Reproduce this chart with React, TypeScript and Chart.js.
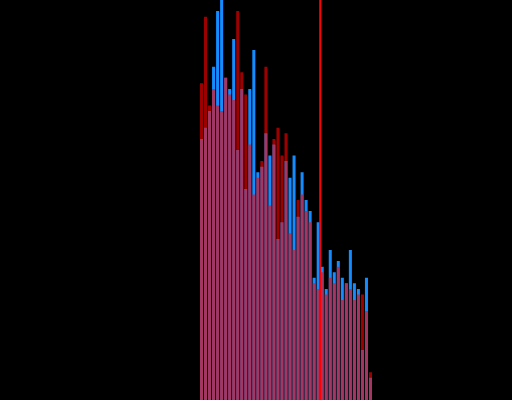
import React, { useEffect, useRef } from "react";
import { Chart, registerables } from "chart.js";

Chart.register(...registerables);

const bins: string[] = Array.from({ length: 43 }, (_, i) => String(i + 1));

const blueCounts: number[] = [
  47, 49, 52, 60, 70, 72, 58, 56, 65, 45, 56, 38, 56, 63, 41, 42, 48, 44, 46, 29,
  32, 43, 40, 44, 33, 41, 36, 34, 22, 32, 24, 20, 27, 23, 25, 22, 21, 27, 21, 20,
  9, 22, 4,
];

const redCounts: number[] = [
  57, 69, 53, 56, 53, 52, 58, 55, 54, 70, 59, 55, 46, 37, 40, 43, 60, 35, 47, 49,
  44, 48, 30, 27, 36, 37, 34, 32, 21, 20, 23, 19, 22, 21, 24, 18, 21, 20, 18, 19,
  19, 16, 5,
];

const thresholdBin = 29.5;
const yMax = 72;

const thresholdPlugin = {
  id: "thresholdLine",
  afterDatasetsDraw(chart: any) {
    const { ctx, chartArea, scales } = chart;
    const x = scales.x.getPixelForValue(thresholdBin);
    ctx.save();
    ctx.strokeStyle = "rgb(255,0,0)";
    ctx.lineWidth = 2;
    ctx.beginPath();
    ctx.moveTo(x, 0);
    ctx.lineTo(x, chartArea.bottom);
    ctx.stroke();
    ctx.restore();
  },
};

export default function App() {
  const ref = useRef<HTMLCanvasElement | null>(null);

  useEffect(() => {
    if (!ref.current) return;
    const chart = new Chart(ref.current, {
      type: "bar",
      data: {
        labels: bins,
        datasets: [
          {
            label: "red",
            data: redCounts,
            backgroundColor: "rgba(255,0,0,0.62)",
            borderWidth: 0,
            grouped: false,
            order: 0,
            barPercentage: 0.75,
            categoryPercentage: 1,
          },
          {
            label: "blue",
            data: blueCounts,
            backgroundColor: "rgb(20,140,255)",
            borderWidth: 0,
            grouped: false,
            order: 1,
            barPercentage: 0.75,
            categoryPercentage: 1,
          },
        ],
      },
      options: {
        animation: false,
        responsive: true,
        maintainAspectRatio: false,
        layout: { padding: { left: 199.5, right: 139.5, top: 0, bottom: 0 } },
        plugins: {
          legend: { display: false },
          tooltip: { enabled: false },
        },
        scales: {
          x: { display: false },
          y: { display: false, min: 0, max: yMax },
        },
      },
      plugins: [thresholdPlugin],
    });
    return () => chart.destroy();
  }, []);

  return (
    <div
      style={{
        position: "fixed",
        left: 0,
        top: 0,
        width: 512,
        height: 400,
        background: "#000",
      }}
    >
      <canvas ref={ref} />
    </div>
  );
}
